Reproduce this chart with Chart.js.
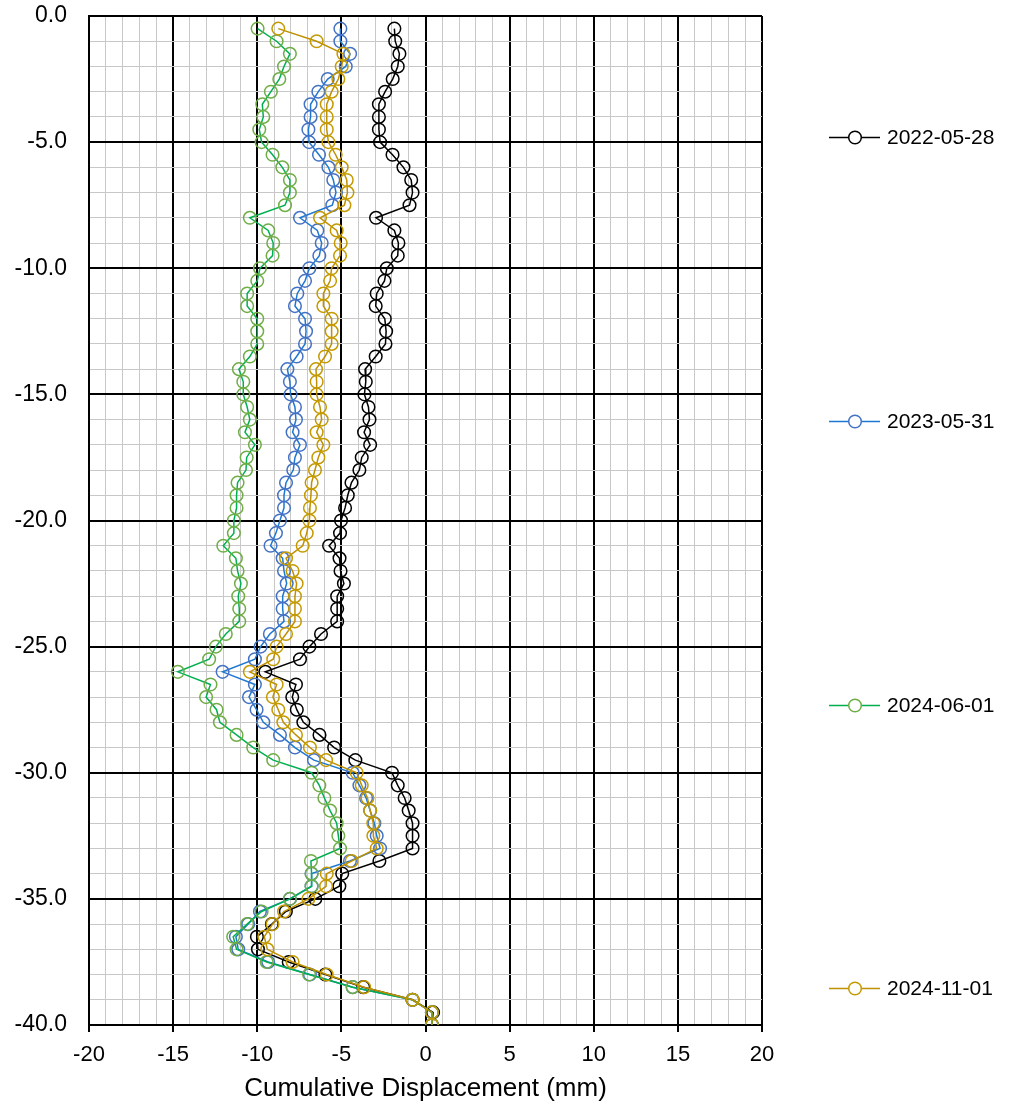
<!DOCTYPE html>
<html>
<head>
<meta charset="utf-8">
<script src="https://cdn.jsdelivr.net/npm/chart.js@4/dist/chart.umd.min.js"></script>
<style>
html,body{margin:0;padding:0;background:#fff;}
#wrap{width:1019px;height:1108px;}
</style>
</head>
<body>
<div id="wrap"><canvas id="c" width="1019" height="1108"></canvas></div>
<script>
const depths = [-0.5,-1,-1.5,-2,-2.5,-3,-3.5,-4,-4.5,-5,-5.5,-6,-6.5,-7,-7.5,-8,-8.5,-9,-9.5,-10,
  -10.5,-11,-11.5,-12,-12.5,-13,-13.5,-14,-14.5,-15,-15.5,-16,-16.5,-17,-17.5,-18,-18.5,-19,-19.5,-20,
  -20.5,-21,-21.5,-22,-22.5,-23,-23.5,-24,-24.5,-25,-25.5,-26,-26.5,-27,-27.5,-28,-28.5,-29,-29.5,-30,
  -30.5,-31,-31.5,-32,-32.5,-33,-33.5,-34,-34.5,-35,-35.5,-36,-36.5,-37,-37.5,-38,-38.5,-39,-39.5,-40];

const seriesNames = ['2022-05-28','2023-05-31','2024-06-01','2024-11-01'];

const s20220528 = [-1.85,-1.8,-1.55,-1.65,-1.95,-2.4,-2.77,-2.77,-2.77,-2.7,-1.96,-1.31,-0.85,-0.77,-0.95,-2.94,-1.85,-1.61,-1.65,-2.3,
  -2.44,-2.9,-2.96,-2.42,-2.34,-2.38,-2.96,-3.59,-3.55,-3.63,-3.39,-3.33,-3.65,-3.29,-3.79,-3.93,-4.4,-4.62,-4.78,-5.02,
  -5.08,-5.73,-5.11,-5.05,-4.85,-5.25,-5.25,-5.25,-6.21,-6.9,-7.46,-9.52,-7.7,-7.92,-7.65,-7.26,-6.3,-5.43,-4.17,-1.99,
  -1.65,-1.24,-1.0,-0.77,-0.77,-0.77,-2.74,-4.95,-5.12,-6.55,-8.3,-9.13,-10.02,-9.96,-8.13,-5.95,-3.7,-0.77,0.45,0.39];

const s20230531 = [-5.06,-5.06,-4.48,-4.74,-5.81,-6.37,-6.83,-6.83,-6.96,-6.92,-6.33,-5.77,-5.48,-5.32,-5.54,-7.46,-6.43,-6.17,-6.31,-6.9,
  -7.16,-7.62,-7.76,-7.16,-7.1,-7.16,-7.66,-8.21,-8.06,-8.02,-7.76,-7.7,-7.9,-7.46,-7.76,-7.86,-8.29,-8.41,-8.41,-8.65,
  -8.89,-9.21,-8.49,-8.41,-8.25,-8.49,-8.49,-8.41,-9.25,-9.8,-10.14,-12.06,-10.14,-10.49,-10.04,-9.64,-8.65,-7.76,-6.63,-4.33,
  -3.93,-3.53,-3.29,-3.04,-2.9,-2.7,-4.49,-6.77,-6.77,-8.06,-9.84,-10.54,-11.27,-11.13,-9.35,-6.87,-4.33,-0.77,0.38,0.38];

const s20240601 = [-9.98,-8.85,-8.06,-8.41,-8.69,-9.19,-9.7,-9.64,-9.88,-9.74,-9.09,-8.51,-8.06,-8.06,-8.35,-10.44,-9.35,-9.05,-9.09,-9.84,
  -10.0,-10.6,-10.6,-10.0,-10.0,-10.0,-10.44,-11.09,-10.83,-10.83,-10.6,-10.44,-10.73,-10.14,-10.63,-10.67,-11.17,-11.23,-11.23,-11.39,
  -11.39,-12.02,-11.27,-11.17,-10.97,-11.13,-11.07,-11.07,-11.87,-12.46,-12.86,-14.72,-12.78,-13.04,-12.42,-12.22,-11.23,-10.24,-9.05,-6.77,
  -6.31,-6.01,-5.67,-5.28,-5.18,-5.08,-6.81,-6.77,-6.77,-8.06,-9.74,-10.6,-11.43,-11.23,-9.44,-6.92,-4.33,-0.77,0.38,0.38];

const s20241101 = [-8.75,-6.47,-4.88,-4.98,-5.18,-5.58,-5.87,-5.87,-5.87,-5.77,-5.34,-4.98,-4.68,-4.64,-4.82,-6.27,-5.28,-5.04,-5.08,-5.58,
  -5.67,-6.07,-6.07,-5.58,-5.58,-5.58,-5.97,-6.51,-6.47,-6.47,-6.27,-6.17,-6.47,-6.07,-6.37,-6.57,-6.77,-6.81,-6.87,-6.9,
  -7.06,-7.3,-8.29,-7.9,-7.66,-7.76,-7.76,-7.76,-8.29,-8.85,-9.05,-10.44,-8.85,-9.07,-8.75,-8.45,-7.7,-6.87,-5.91,-4.09,
  -3.79,-3.45,-3.29,-3.1,-3.1,-2.9,-4.39,-5.87,-5.91,-6.96,-8.41,-9.09,-9.58,-9.4,-7.9,-5.87,-3.65,-0.77,0.38,0.38];

const seriesValues = [s20220528, s20230531, s20240601, s20241101];
const lineColors = ['#000000', '#1E78D2', '#00B050', '#BF9000'];
const markerColors = ['#000000', '#4472C4', '#70AD47', '#C49A00'];

const xMin = -20, xMax = 20, yMin = -40, yMax = 0;
const FONT = "'Liberation Sans', Arial, sans-serif";

const datasets = seriesNames.map((name, i) => ({
  label: name,
  data: depths.map((d, k) => ({x: seriesValues[i][k], y: d})),
  showLine: true,
  borderColor: lineColors[i],
  borderWidth: 1.5,
  pointRadius: 6.3,
  pointHoverRadius: 6.3,
  pointBorderWidth: 1.5,
  pointBorderColor: markerColors[i],
  pointBackgroundColor: 'rgba(0,0,0,0)',
  backgroundColor: 'rgba(0,0,0,0)',
  order: seriesNames.length - i
}));

const isMajor = v => Math.abs(Math.round(v) % 5) === 0;
const unitTicks = s => {
  const t = [];
  for (let v = Math.round(s.min); v <= Math.round(s.max); v++) t.push({ value: v });
  s.ticks = t;
};

const legendPlugin = {
  id: 'spreadLegend',
  afterDraw(chart) {
    const ctx = chart.ctx;
    const area = chart.chartArea;
    const h = area.bottom - area.top;
    chart.data.datasets.forEach((ds, i) => {
      const y = Math.round(area.top + h * (0.12 + i * 0.2812)) + 0.5;
      ctx.save();
      ctx.strokeStyle = ds.borderColor;
      ctx.lineWidth = 1.5;
      ctx.beginPath();
      ctx.moveTo(829, y);
      ctx.lineTo(880, y);
      ctx.stroke();
      ctx.strokeStyle = ds.pointBorderColor;
      ctx.beginPath();
      ctx.arc(855, y, 6.3, 0, Math.PI * 2);
      ctx.fillStyle = '#fff';
      ctx.fill();
      ctx.stroke();
      ctx.fillStyle = '#000';
      ctx.font = "21px " + FONT;
      ctx.textAlign = 'left';
      ctx.textBaseline = 'middle';
      ctx.fillText(ds.label, 887, y + 1);
      ctx.restore();
    });
  }
};

new Chart(document.getElementById('c'), {
  type: 'scatter',
  data: { datasets },
  plugins: [legendPlugin],
  options: {
    responsive: false,
    animation: false,
    devicePixelRatio: 1,
    layout: { padding: { top: 0, right: 257, bottom: 0, left: 0 } },
    plugins: { legend: { display: false }, tooltip: { enabled: false } },
    scales: {
      x: {
        type: 'linear',
        min: xMin, max: xMax,
        afterBuildTicks: unitTicks,
        afterFit: s => { s.height = 83; s.paddingLeft = 16; s.paddingRight = 16; },
        ticks: {
          autoSkip: false, maxRotation: 0,
          color: '#000', font: { family: FONT, size: 22 }, padding: 10,
          callback: v => isMajor(v) ? String(Math.round(v)) : ''
        },
        grid: {
          color: c => (c.tick && isMajor(c.tick.value)) ? '#000' : '#c8c8c8',
          lineWidth: c => (c.tick && isMajor(c.tick.value)) ? 2 : 1,
          tickColor: c => (c.tick && isMajor(c.tick.value)) ? '#000' : 'rgba(0,0,0,0)',
          tickLength: 7,
          drawTicks: true
        },
        border: { display: true, color: '#000', width: 2 },
        title: {
          display: true, text: 'Cumulative Displacement (mm)', color: '#000',
          font: { family: FONT, size: 26 }, padding: { top: 0, bottom: 4 }
        }
      },
      y: {
        type: 'linear',
        min: yMin, max: yMax,
        afterBuildTicks: unitTicks,
        afterFit: s => { s.width = 89; s.paddingTop = 16; s.paddingBottom = 14; },
        ticks: {
          autoSkip: false,
          color: '#000', font: { family: FONT, size: 23 }, padding: 22,
          callback: v => isMajor(v) ? Number(v).toFixed(1) : ''
        },
        grid: {
          color: c => (c.tick && isMajor(c.tick.value)) ? '#000' : '#c8c8c8',
          lineWidth: c => (c.tick && isMajor(c.tick.value)) ? 2 : 1,
          drawTicks: false
        },
        border: { display: true, color: '#000', width: 2 }
      }
    }
  }
});
</script>
</body>
</html>
